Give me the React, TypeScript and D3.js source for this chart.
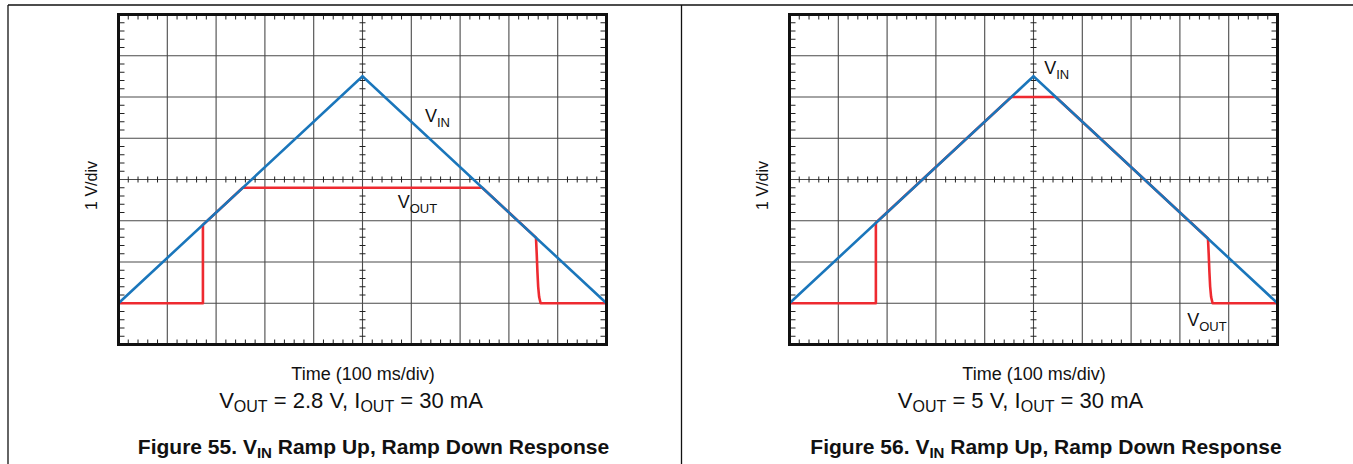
import React from "react";
import * as d3 from "d3";

// ---- data (time in ms, voltage in V above ground marker) ----
const vinTime = [0, 500, 1000];
const vinVolt = [0, 5.5, 0];

const vout1Time = [0, 173, 173, 254.5, 745.5, 855.5, 857, 858.5, 860, 862, 865, 1000];
const vout1Volt = [0, 0, 1.9, 2.8, 2.8, 1.59, 1.2, 0.75, 0.4, 0.15, 0, 0];

const vout2Time = [0, 177, 177, 454.5, 545.5, 857.5, 859, 860.5, 862, 864, 867, 1000];
const vout2Volt = [0, 0, 1.95, 5, 5, 1.57, 1.2, 0.75, 0.4, 0.15, 0, 0];

const panels = [
  {
    x0: 118.5,
    vinLabel: { t: 628, v: 4.4 },
    voutLabel: { t: 572, v: 2.3 },
    vout: [vout1Time, vout1Volt],
    xlabelCx: 363,
    subCx: 351,
    capCx: 373.5,
    sub: ["V", "OUT", " = 2.8 V, I", "OUT", " = 30 mA"],
    fig: "Figure 55. V",
  },
  {
    x0: 789.5,
    vinLabel: { t: 522, v: 5.55 },
    voutLabel: { t: 815, v: -0.55 },
    vout: [vout2Time, vout2Volt],
    xlabelCx: 1034,
    subCx: 1020.5,
    capCx: 1046,
    sub: ["V", "OUT", " = 5 V, I", "OUT", " = 30 mA"],
    fig: "Figure 56. V",
  },
];

const W = 488;
const TOP = 14.5;
const BOT = 344.5;
const FONT = "'Liberation Sans', Arial, Helvetica, sans-serif";
const BLUE = "#1a76bb";
const RED = "#ee2a30";
const GRID = "#4a4a4a";

function Panel({ p }: { p: any }) {
  const x = d3.scaleLinear().domain([0, 1000]).range([p.x0, p.x0 + W]);
  const y = d3.scaleLinear().domain([-1, 7]).range([BOT, TOP]);
  const line = d3
    .line<[number, number]>()
    .x((d) => x(d[0]))
    .y((d) => y(d[1]));
  const vin = line(vinTime.map((t, i) => [t, vinVolt[i]]));
  const vout = line(p.vout[0].map((t: number, i: number) => [t, p.vout[1][i]]));

  const majorX = d3.range(100, 1000, 100);
  const majorY = d3.range(0, 7, 1);
  const minorX = d3.range(0, 1000.01, 20).filter((t) => t % 100 !== 0);
  const minorY = d3.range(-1, 7.001, 0.2).filter((v) => Math.abs(v - Math.round(v)) > 0.01);

  return (
    <g>
      {majorX.map((t) => (
        <line key={"gx" + t} x1={x(t)} x2={x(t)} y1={TOP} y2={BOT} stroke={GRID} strokeWidth={1.1} />
      ))}
      {majorY.map((v) => (
        <line key={"gy" + v} x1={x(0)} x2={x(1000)} y1={y(v)} y2={y(v)} stroke={GRID} strokeWidth={1.1} />
      ))}
      {minorX.map((t) => (
        <g key={"mx" + t} stroke="#222" strokeWidth={1}>
          <line x1={x(t)} x2={x(t)} y1={TOP} y2={TOP + 5} />
          <line x1={x(t)} x2={x(t)} y1={BOT} y2={BOT - 5} />
          <line x1={x(t)} x2={x(t)} y1={y(3) - 3} y2={y(3) + 3} />
        </g>
      ))}
      {minorY.map((v) => (
        <g key={"my" + v.toFixed(1)} stroke="#222" strokeWidth={1}>
          <line x1={x(0)} x2={x(0) + 6} y1={y(v)} y2={y(v)} />
          <line x1={x(1000)} x2={x(1000) - 6} y1={y(v)} y2={y(v)} />
          <line x1={x(500) - 3} x2={x(500) + 3} y1={y(v)} y2={y(v)} />
        </g>
      ))}
      <path d={vout || ""} fill="none" stroke={RED} strokeWidth={2.6} strokeLinejoin="round" />
      <path d={vin || ""} fill="none" stroke={BLUE} strokeWidth={2.6} strokeLinejoin="miter" />
      <rect x={p.x0} y={TOP} width={W} height={BOT - TOP} fill="none" stroke="#111" strokeWidth={3} />
      <text x={x(p.vinLabel.t)} y={y(p.vinLabel.v)} fontFamily={FONT} fontSize={18} fill="#111">
        V<tspan fontSize={13} dy={5}>IN</tspan>
      </text>
      <text x={x(p.voutLabel.t)} y={y(p.voutLabel.v)} fontFamily={FONT} fontSize={18} fill="#111">
        V<tspan fontSize={13} dy={5}>OUT</tspan>
      </text>
      <text
        transform={`translate(${p.x0 - 21.5},${(TOP + BOT) / 2 + 6}) rotate(-90)`}
        textAnchor="middle"
        fontFamily={FONT}
        fontSize={16}
        fill="#111"
      >
        1 V/div
      </text>
      <text x={p.xlabelCx} y={380} textAnchor="middle" fontFamily={FONT} fontSize={18} fill="#111">
        Time (100 ms/div)
      </text>
      <text x={p.subCx} y={408} textAnchor="middle" fontFamily={FONT} fontSize={22} fill="#111">
        {p.sub[0]}
        <tspan fontSize={16} dy={4}>{p.sub[1]}</tspan>
        <tspan dy={-4}>{p.sub[2]}</tspan>
        <tspan fontSize={16} dy={4}>{p.sub[3]}</tspan>
        <tspan dy={-4}>{p.sub[4]}</tspan>
      </text>
      <text x={p.capCx} y={454} textAnchor="middle" fontFamily={FONT} fontSize={21} fontWeight="bold" fill="#111">
        {p.fig}
        <tspan fontSize={15} dy={4}>IN</tspan>
        <tspan dy={-4}> Ramp Up, Ramp Down Response</tspan>
      </text>
    </g>
  );
}

export default function App() {
  return (
    <svg
      width={1353}
      height={464}
      style={{ position: "absolute", left: 0, top: 0, background: "#fff" }}
    >
      <rect x={0} y={0} width={1353} height={464} fill="#fff" />
      <line x1={8} x2={1353} y1={5} y2={5} stroke="#111" strokeWidth={1.3} />
      <line x1={8} x2={8} y1={5} y2={464} stroke="#111" strokeWidth={1.3} />
      <line x1={681.5} x2={681.5} y1={5} y2={464} stroke="#111" strokeWidth={1.3} />
      {panels.map((p, i) => (
        <Panel key={i} p={p} />
      ))}
    </svg>
  );
}
